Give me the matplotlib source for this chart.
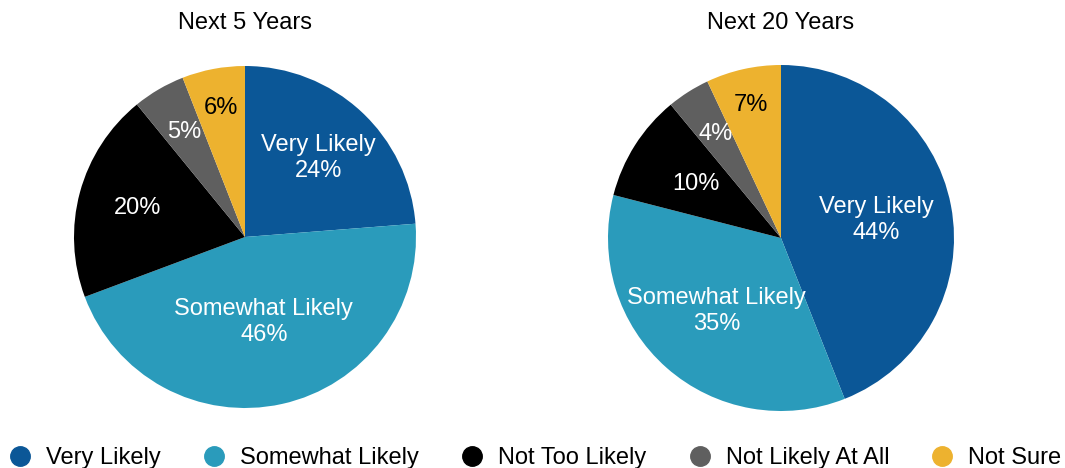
import numpy as np
import matplotlib
matplotlib.use("Agg")
import matplotlib.pyplot as plt
from matplotlib.lines import Line2D

plt.rcParams['font.family'] = ['Liberation Sans', 'DejaVu Sans']

categories = ["Very Likely", "Somewhat Likely", "Not Too Likely", "Not Likely At All", "Not Sure"]
next5 = [24, 46, 20, 5, 6]
next20 = [44, 35, 10, 4, 7]
titles = ["Next 5 Years", "Next 20 Years"]

colors = ["#0B5797", "#2A9BBB", "#000000", "#5F5F5F", "#EDB22F"]
text_colors = ["white", "white", "white", "white", "black"]

W, H = 1065, 468
fig = plt.figure(figsize=(W / 100, H / 100), dpi=100)

# pie geometry in pixels: centre x, centre y (from top), radius
geoms = [(245, 237, 171), (781, 238, 173)]
label_r = [[0.63, 0.51, 0.65, 0.71, 0.77],
           [0.56, 0.56, 0.58, 0.71, 0.79]]

for k, (vals, title, (cx, cy, r)) in enumerate(zip([next5, next20], titles, geoms)):
    ax = fig.add_axes([(cx - r) / W, (H - cy - r) / H, 2 * r / W, 2 * r / H])
    wedges, _ = ax.pie(vals, colors=colors, startangle=90, counterclock=False,
                       radius=1.0, wedgeprops=dict(linewidth=0))
    ax.set_xlim(-1, 1)
    ax.set_ylim(-1, 1)
    ax.set_aspect('equal')
    ax.axis('off')
    for i, (w, v) in enumerate(zip(wedges, vals)):
        ang = np.deg2rad((w.theta1 + w.theta2) / 2)
        d = label_r[k][i]
        txt = f"{v}%"
        if i < 2:
            txt = f"{categories[i]}\n{v}%"
        ax.text(d * np.cos(ang), d * np.sin(ang), txt, ha='center', va='center',
                fontsize=17, color=text_colors[i], linespacing=1.22)
    fig.text(cx / W, 1 - 23 / H, title, ha='center', va='center', fontsize=17)

handles = [Line2D([], [], marker='o', linestyle='none', markersize=14,
                  markerfacecolor=c, markeredgecolor=c) for c in colors]
fig.legend(handles, categories, loc='center', bbox_to_anchor=(535 / W, 1 - 458 / H),
           ncol=5, frameon=False, fontsize=17, handletextpad=0.6,
           columnspacing=1.75, borderpad=0, handlelength=1.0)

fig.savefig("out.png", dpi=100)
